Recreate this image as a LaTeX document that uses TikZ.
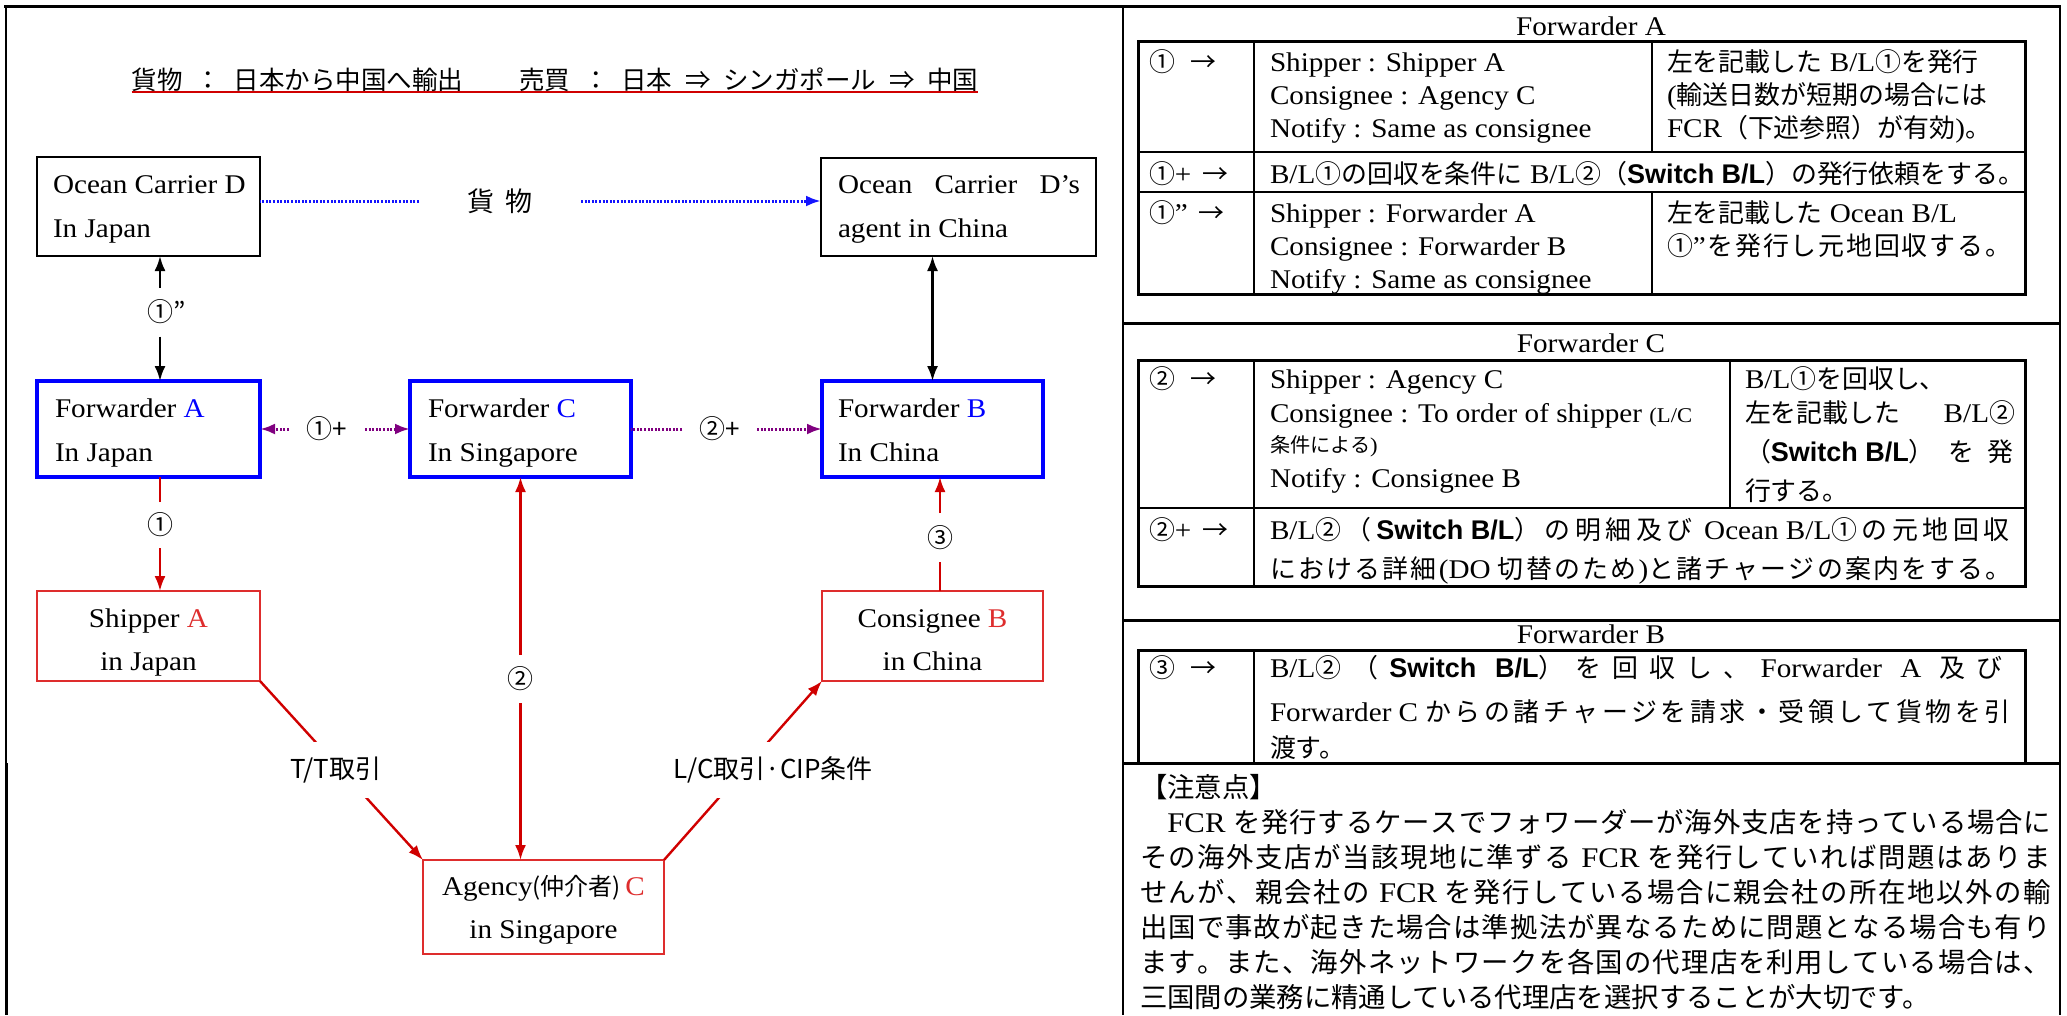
\documentclass[tikz,border=0pt]{standalone}
\usepackage{fontspec}
\setmainfont{Liberation Serif}[FakeStretch=1.08]
\newfontfamily\jp{Noto Sans CJK JP}[Scale=0.96]
\newfontfamily\jpt{Noto Sans CJK JP}
\newfontfamily\bsans{Liberation Sans}
\usetikzlibrary{arrows.meta}
\definecolor{fblue}{RGB}{0,0,255}
\definecolor{bred}{RGB}{222,45,45}
\definecolor{ared}{RGB}{208,0,0}
\definecolor{dpurple}{RGB}{128,0,128}
\definecolor{dblue}{RGB}{20,20,255}
\newcommand\FS[1]{\fontsize{#1}{#1}\selectfont}
\newcommand\J[1]{{\jp #1}}
\newcommand\SW{{\bsans\bfseries Switch B/L}}
\newcommand\GL{\hskip 0pt plus 1fil\relax}
\makeatletter
\def\SP@end{\SP@end}
\def\SP@#1{\ifx#1\SP@end\else#1\hskip 0pt plus 1fil\relax\expandafter\SP@\fi}
\newcommand\JS[1]{{\jp\SP@#1\SP@end}}
\makeatother
\begin{document}
\begin{tikzpicture}[x=1pt,y=-1pt,
  every node/.style={inner sep=0pt,outer sep=0pt,font=\FS{27}},
  tx/.style={anchor=base west},
  tc/.style={anchor=base},
  boxK/.style={draw=black,line width=2pt},
  boxB/.style={draw=fblue,line width=3.5pt},
  boxR/.style={draw=bred,line width=2pt},
  tip/.style={-{Latex[length=15pt,width=11pt]}},
  dtip/.style={{Latex[length=15pt,width=11pt]}-{Latex[length=15pt,width=11pt]}},
  kline/.style={line width=2.2pt,black},
  rline/.style={line width=2.4pt,ared},
  pdot/.style={line width=3pt,dpurple,dash pattern=on 2pt off 1.6pt},
  bdot/.style={line width=3pt,dblue,dash pattern=on 2pt off 1.6pt},
  lbl/.style={font=\jpt\FS{26}},
  note/.style={anchor=base west,font=\FS{28.5}},
  thinl/.style={line width=1.5pt},
  thickl/.style={line width=3pt},
  midl/.style={line width=2pt}]
\useasboundingbox (0,0) rectangle (2067,1015);
\fill[white] (0,0) rectangle (2067,1015);

% ---------- frame ----------
\draw[thickl] (4,6) -- (2061,6);
\draw[thinl] (6,6) -- (6,763);
\draw[thickl] (6,763) -- (6,1015);
\draw[thinl] (1123,6) -- (1123,1015);
\draw[line width=2.5pt] (2060,6) -- (2060,1015);
\draw[thickl] (1123,323) -- (2060,323);
\draw[thickl] (1123,620) -- (2060,620);
\draw[thickl] (1123,763) -- (2060,763);

% ---------- title ----------
\node[font=\jpt\FS{25.5}] (title) at (555,80) {貨物\hspace{.5em}：\hspace{.5em}日本から中国へ輸出\hspace{2.2em}売買\hspace{.5em}：\hspace{.5em}日本\hspace{.5em}⇒\hspace{.5em}シンガポール\hspace{.5em}⇒\hspace{.5em}中国};
\draw[line width=2.5pt,ared] (title.south west) -- (title.south east);

% ---------- boxes ----------
\node[boxK,minimum width=223pt,minimum height=99pt] (oceanD) at (148.5,206.5) {};
\node[boxK,minimum width=275pt,minimum height=98pt] (agentD) at (958.5,207) {};
\node[boxB,minimum width=223pt,minimum height=96pt] (fwdA) at (148.5,429) {};
\node[boxB,minimum width=221pt,minimum height=96pt] (fwdC) at (520.5,429) {};
\node[boxB,minimum width=221pt,minimum height=96pt] (fwdB) at (932.5,429) {};
\node[boxR,minimum width=223pt,minimum height=90pt] (shipA) at (148.5,636) {};
\node[boxR,minimum width=221pt,minimum height=90pt] (consB) at (932.5,636) {};
\node[boxR,minimum width=241pt,minimum height=94pt] (agency) at (543.5,907) {};

\node[tx] (oceanDa) at (53,193) {Ocean Carrier D};
\node[tx] (oceanDb) at (53,237) {In Japan};
\node[tx] (agentDa) at (838,193) {\hbox to 242pt{Ocean\hfil Carrier\hfil D’s}};
\node[tx] (agentDb) at (838,237) {agent in China};
\node[tx] (fwdAa) at (55,417) {Forwarder \textcolor{fblue}{A}};
\node[tx] (fwdAb) at (55,461) {In Japan};
\node[tx] (fwdCa) at (428,417) {Forwarder \textcolor{fblue}{C}};
\node[tx] (fwdCb) at (428,461) {In Singapore};
\node[tx] (fwdBa) at (838,417) {Forwarder \textcolor{fblue}{B}};
\node[tx] (fwdBb) at (838,461) {In China};
\node[tc] (shipAa) at (148.5,627) {Shipper \textcolor{bred}{A}};
\node[tc] (shipAb) at (148.5,670) {in Japan};
\node[tc] (consBa) at (932.5,627) {Consignee \textcolor{bred}{B}};
\node[tc] (consBb) at (932.5,670) {in China};
\node[tc] (agencya) at (543.5,895) {Agency{\jpt\FS{24}(仲介者)}\,\textcolor{bred}{C}};
\node[tc] (agencyb) at (543.5,938) {in Singapore};

% ---------- connectors ----------
\node[lbl,minimum height=49pt] (l1dd) at (160,312) {①\rlap{”}};
\draw[kline,tip] (l1dd.north) -- (l1dd.north |- oceanD.south);
\draw[kline,tip] (l1dd.south) -- (l1dd.south |- fwdA.north);
\draw[kline,dtip] (fwdB.north) -- (fwdB.north |- agentD.south);

\node[lbl,minimum width=162pt,font=\jpt\FS{27}] (cargo) at (500,201) {貨\hspace{.4em}物};
\draw[bdot] (cargo.west) -- (cargo.west -| oceanD.east);
\draw[bdot,tip] (cargo.east) -- (cargo.east -| agentD.west);

\node[lbl,minimum width=76pt] (l1p) at (327,429) {①+};
\draw[pdot,tip] (l1p.west) -- (l1p.west -| fwdA.east);
\draw[pdot,tip] (l1p.east) -- (l1p.east -| fwdC.west);
\node[lbl,minimum width=75pt] (l2p) at (719.5,429) {②+};
\draw[pdot] (l2p.west) -- (l2p.west -| fwdC.east);
\draw[pdot,tip] (l2p.east) -- (l2p.east -| fwdB.west);

\node[lbl,minimum height=46pt] (l1) at (160,525) {①};
\draw[rline] (l1.north) -- (l1.north |- fwdA.south);
\draw[rline,tip] (l1.south) -- (l1.south |- shipA.north);
\node[lbl,minimum height=48pt] (l2) at (520.5,679) {②};
\draw[rline,tip] (l2.north) -- (l2.north |- fwdC.south);
\draw[rline,tip] (l2.south) -- (l2.south |- agency.north);
\node[lbl,minimum height=49pt] (l3) at (940,537.5) {③};
\draw[rline,tip] (l3.north) -- (l3.north |- fwdB.south);
\draw[rline] (l3.south) -- (l3.south |- consB.north);

\draw[rline,tip] (shipA.south east) -- (agency.north west);
\draw[rline,tip] (agency.north east) -- (consB.south west);
\node[lbl,fill=white,minimum width=105pt,minimum height=56pt] (tt) at (336,770) {T/T取引};
\node[lbl,fill=white,minimum width=205pt,minimum height=56pt] (lc) at (773,770) {L/C取引·CIP条件};

% ---------- right panel: Forwarder A ----------
\node[tc] (tA) at (1591,35) {Forwarder A};
\draw[thickl] (1138,41) rectangle (2025,294);
\draw[line width=2.5pt] (1138,152) -- (2025,152);
\draw[line width=2.5pt] (1138,192) -- (2025,192);
\draw[midl] (1254,41) -- (1254,294);
\draw[midl] (1652,41) -- (1652,152);
\draw[midl] (1652,192) -- (1652,294);
\node[tx] (a1k) at (1149,71) {\J{①\hspace{.6em}→}};
\node[tx] (a1a) at (1270,71) {Shipper : Shipper A};
\node[tx] (a1b) at (1270,104) {Consignee : Agency C};
\node[tx] (a1c) at (1270,137) {Notify : Same as consignee};
\node[tx] (a1d) at (1667,71) {\J{左を記載した} B/L\J{①を発行}};
\node[tx] (a1e) at (1667,104) {(\J{輸送日数が短期の場合には}};
\node[tx] (a1f) at (1667,137) {FCR\J{（下述参照）が有効})\J{。}};
\node[tx] (a2k) at (1149,183) {\J{①}+\hspace{.4em}\J{→}};
\node[tx] (a2a) at (1270,183) {B/L\J{①の回収を条件に} B/L\J{②（}\SW\J{）の発行依頼をする。}};
\node[tx] (a3k) at (1149,222) {\J{①}”\hspace{.4em}\J{→}};
\node[tx] (a3a) at (1270,222) {Shipper : Forwarder A};
\node[tx] (a3b) at (1270,255) {Consignee : Forwarder B};
\node[tx] (a3c) at (1270,288) {Notify : Same as consignee};
\node[tx] (a3d) at (1667,222) {\J{左を記載した} Ocean B/L};
\node[tx] (a3e) at (1667,255) {\hbox to 346pt{\J{①}”\GL\JS{を発行し元地回収する。}}};

% ---------- right panel: Forwarder C ----------
\node[tc] (tC) at (1591,352) {Forwarder C};
\draw[thickl] (1138,360) rectangle (2025,586);
\draw[line width=2.5pt] (1138,508) -- (2025,508);
\draw[midl] (1254,360) -- (1254,586);
\draw[midl] (1730,360) -- (1730,508);
\node[tx] (c1k) at (1149,388) {\J{②\hspace{.6em}→}};
\node[tx] (c1a) at (1270,388) {Shipper : Agency C};
\node[tx] (c1b) at (1270,422) {Consignee : To order of shipper {\FS{21}(L/C}};
\node[tx] (c1c) at (1270,452) {\FS{21}\J{条件による})};
\node[tx] (c1d) at (1270,487) {Notify : Consignee B};
\node[tx] (c1e) at (1745,388) {B/L\J{①を回収し、}};
\node[tx] (c1f) at (1745,422) {\hbox to 270pt{\J{左を記載した}\hfill B/L\J{②}}};
\node[tx] (c1g) at (1745,461) {\hbox to 268pt{\J{（}\SW\J{）}\GL\J{を}\GL\J{発}}};
\node[tx] (c1h) at (1745,500) {\J{行する。}};
\node[tx] (c2k) at (1149,539) {\J{②}+\hspace{.4em}\J{→}};
\node[tx] (c2a) at (1270,539) {\hbox to 744pt{B/L\JS{②（}\SW\JS{）の明細及び} Ocean B/L\JS{①の元地回収}}};
\node[tx] (c2b) at (1270,578) {\hbox to 744pt{\JS{における詳細}(DO \JS{切替のため})\JS{と諸チャージの案内をする。}}};

% ---------- right panel: Forwarder B ----------
\node[tc] (tB) at (1591,643) {Forwarder B};
\draw[thickl] (1138,650) rectangle (2025,763);
\draw[midl] (1254,650) -- (1254,763);
\node[tx] (b1k) at (1149,677) {\J{③\hspace{.6em}→}};
\node[tx] (b1a) at (1270,677) {\hbox to 744pt{B/L\JS{②（}{\bsans\bfseries Switch\GL\ B/L}\JS{）を回収し、}Forwarder\GL\ A\GL\ \JS{及び}}};
\node[tx] (b1b) at (1270,721) {\hbox to 744pt{Forwarder C \JS{からの諸チャージを請求・受領して貨物を引}}};
\node[tx] (b1c) at (1270,757) {\J{渡す。}};

% ---------- notes ----------
\node[note] (n0) at (1140,797) {\J{【注意点】}};
\node[note] (n1) at (1140,832) {\hbox to 912pt{\J{　}FCR \JS{を発行するケースでフォワーダーが海外支店を持っている場合に}}};
\node[note] (n2) at (1140,867) {\hbox to 912pt{\JS{その海外支店が当該現地に準ずる} FCR \JS{を発行していれば問題はありま}}};
\node[note] (n3) at (1140,902) {\hbox to 912pt{\JS{せんが、親会社の} FCR \JS{を発行している場合に親会社の所在地以外の輸}}};
\node[note] (n4) at (1140,937) {\hbox to 912pt{\JS{出国で事故が起きた場合は準拠法が異なるために問題となる場合も有り}}};
\node[note] (n5) at (1140,972) {\hbox to 912pt{\JS{ます。また、海外ネットワークを各国の代理店を利用している場合は、}}};
\node[note] (n6) at (1140,1007) {\J{三国間の業務に精通している代理店を選択することが大切です。}};
\end{tikzpicture}
\end{document}
